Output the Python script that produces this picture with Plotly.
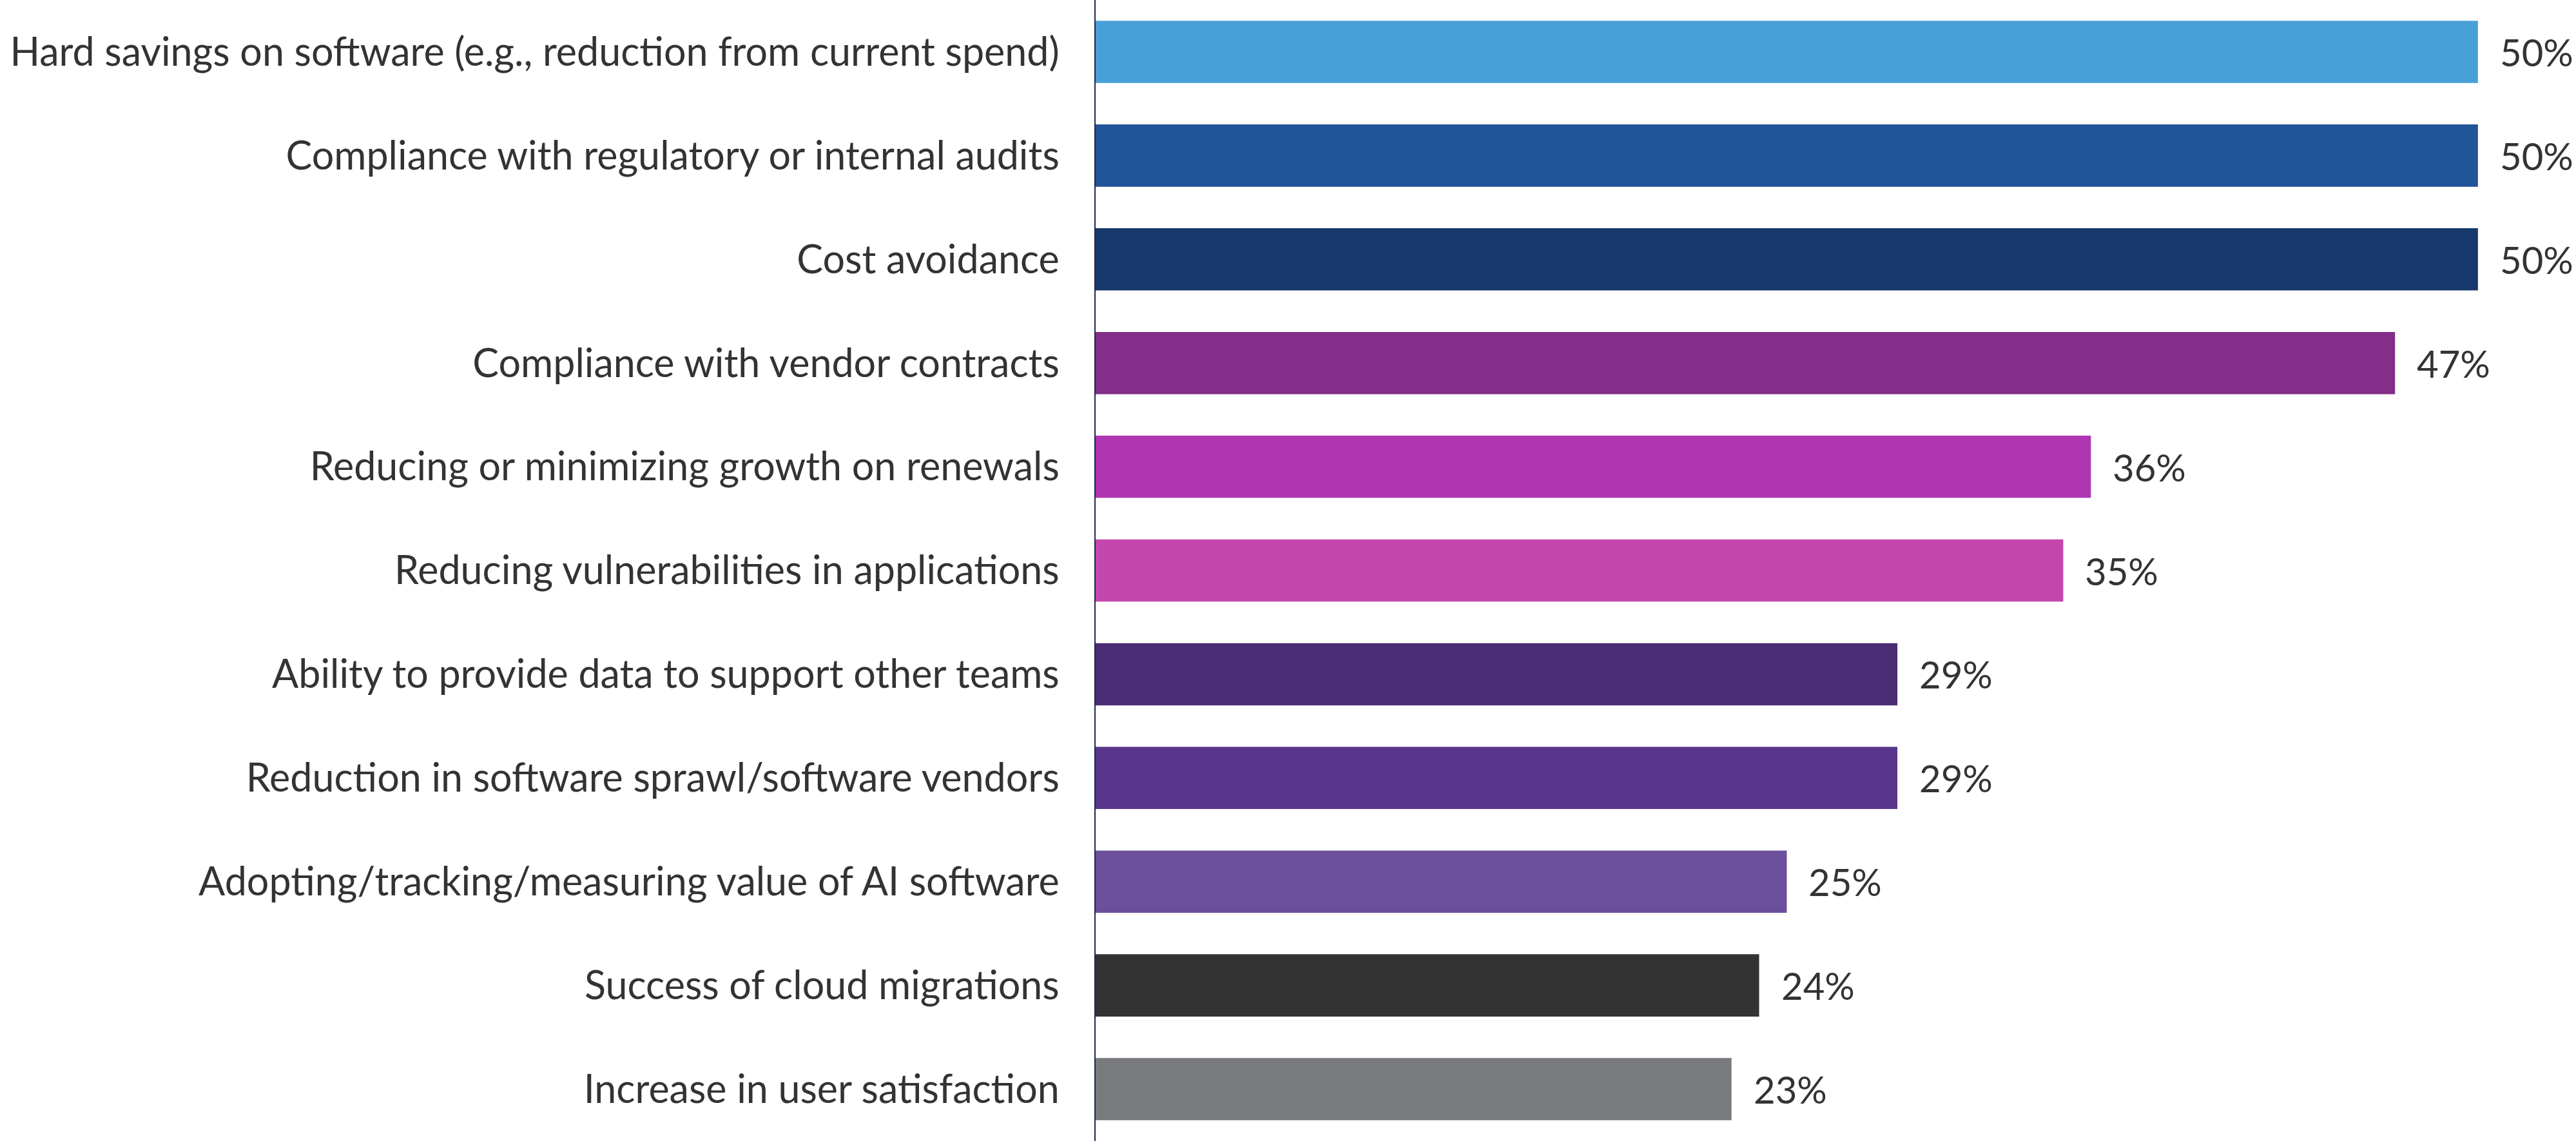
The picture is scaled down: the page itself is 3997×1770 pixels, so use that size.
import plotly.graph_objects as go

categories = [
    "Hard savings on software (e.g., reduction from current spend)",
    "Compliance with regulatory or internal audits",
    "Cost avoidance",
    "Compliance with vendor contracts",
    "Reducing or minimizing growth on renewals",
    "Reducing vulnerabilities in applications",
    "Ability to provide data to support other teams",
    "Reduction in software sprawl/software vendors",
    "Adopting/tracking/measuring value of AI software",
    "Success of cloud migrations",
    "Increase in user satisfaction",
]
values = [50, 50, 50, 47, 36, 35, 29, 29, 25, 24, 23]
bar_colors = [
    "#49A0D9", "#22549A", "#17396C", "#832E88", "#AE36B3", "#C447AD",
    "#4B2B74", "#59368C", "#6B4F9B", "#333333", "#797A7E",
]
value_labels = [f"{v}%" for v in values]

FONT = "Lato"
fig = go.Figure(
    go.Bar(
        x=values,
        y=categories,
        orientation="h",
        marker=dict(color=bar_colors, line=dict(width=0)),
        hoverinfo="skip",
    )
)

for cat, v, lab in zip(categories, values, value_labels):
    fig.add_annotation(
        x=v, y=cat, text=lab, showarrow=False, xanchor="left", xshift=32,
        font=dict(family=FONT, size=58, color="#333333"),
    )

fig.update_layout(
    width=3997, height=1770,
    margin=dict(l=1700, r=2, t=0, b=0),
    paper_bgcolor="white", plot_bgcolor="white",
    bargap=0.4, showlegend=False,
    font=dict(family=FONT, color="#333333"),
    xaxis=dict(range=[0, 53.5], visible=False, fixedrange=True),
    yaxis=dict(
        autorange="reversed", showgrid=False, zeroline=False,
        showline=True, linecolor="#1E2B48", linewidth=2,
        ticks="", ticklabelstandoff=42,
        tickfont=dict(family=FONT, size=61, color="#333333"),
        fixedrange=True,
    ),
)

fig.write_html("out.html")
